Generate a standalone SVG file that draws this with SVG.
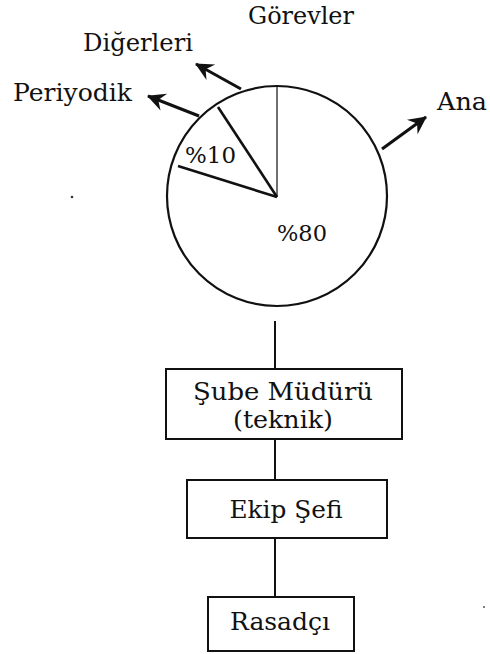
<svg xmlns="http://www.w3.org/2000/svg" width="490" height="654" viewBox="0 0 490 654">
  <style>
    .t { font-family: "DejaVu Serif", "Liberation Serif", serif; fill: #111; }
    .box { fill: #fff; stroke: #111; stroke-width: 2; }
    .link { stroke: #111; stroke-width: 2; fill: none; }
    .arrow { stroke: #111; stroke-width: 3; fill: none; marker-end: url(#head); }
  </style>
  <defs>
    <marker id="head" markerUnits="userSpaceOnUse" markerWidth="26" markerHeight="22" refX="0" refY="0" viewBox="-20 -11 22 22" orient="auto">
      <path d="M1,0 L-17,-9 L-11,0 L-17,9 Z" fill="#111"/>
    </marker>
  </defs>
  <rect width="490" height="654" fill="#fff"/>

  <!-- task share pie -->
  <g id="pie">
    <circle cx="277" cy="196" r="110" fill="#fff" stroke="#111" stroke-width="2.2"/>
    <line x1="277" y1="197" x2="277" y2="87" stroke="#111" stroke-width="1.2"/>
    <line x1="277" y1="197" x2="218" y2="107" stroke="#111" stroke-width="2.6"/>
    <line x1="277" y1="197" x2="178" y2="166" stroke="#111" stroke-width="2.6"/>
    <text class="t" x="185" y="163" font-size="23" textLength="51" lengthAdjust="spacingAndGlyphs">%10</text>
    <text class="t" x="277" y="241" font-size="23" textLength="50" lengthAdjust="spacingAndGlyphs">%80</text>
  </g>

  <g id="title">
    <text class="t" x="248" y="24" font-size="24" textLength="106" lengthAdjust="spacingAndGlyphs">Görevler</text>
  </g>
  <g id="label-digerleri">
    <text class="t" x="83" y="51" font-size="24" textLength="110" lengthAdjust="spacingAndGlyphs">Diğerleri</text>
  </g>
  <g id="label-periyodik">
    <text class="t" x="13" y="101" font-size="24" textLength="119" lengthAdjust="spacingAndGlyphs">Periyodik</text>
  </g>
  <g id="label-ana">
    <text class="t" x="437" y="110" font-size="25" textLength="50" lengthAdjust="spacingAndGlyphs">Ana</text>
  </g>

  <g id="connectors">
    <line class="arrow" x1="199" y1="116" x2="148" y2="96"/>
    <line class="arrow" x1="241" y1="89" x2="196" y2="64"/>
    <line class="arrow" x1="382" y1="149" x2="426" y2="117"/>
    <line class="link" x1="275" y1="321" x2="275" y2="369"/>
    <line class="link" x1="275" y1="439" x2="275" y2="480"/>
    <line class="link" x1="275" y1="538" x2="275" y2="597"/>
  </g>

  <g id="sube-muduru">
    <rect class="box" x="166" y="369" width="236" height="70"/>
    <text class="t" x="283" y="400" font-size="24" text-anchor="middle" textLength="180" lengthAdjust="spacingAndGlyphs">Şube Müdürü</text>
    <text class="t" x="283" y="428" font-size="24" text-anchor="middle" textLength="100" lengthAdjust="spacingAndGlyphs">(teknik)</text>
  </g>

  <g id="ekip-sefi">
    <rect class="box" x="187" y="480" width="200" height="58"/>
    <text class="t" x="286" y="518" font-size="25" text-anchor="middle" textLength="113" lengthAdjust="spacingAndGlyphs">Ekip Şefi</text>
  </g>

  <g id="rasadci">
    <rect class="box" x="208" y="597" width="146" height="54"/>
    <text class="t" x="280" y="630" font-size="25" text-anchor="middle" textLength="100" lengthAdjust="spacingAndGlyphs">Rasadçı</text>
  </g>

  <!-- specks -->
  <circle cx="72" cy="197" r="1.3" fill="#333"/>
  <circle cx="484" cy="607" r="1" fill="#555"/>
</svg>
